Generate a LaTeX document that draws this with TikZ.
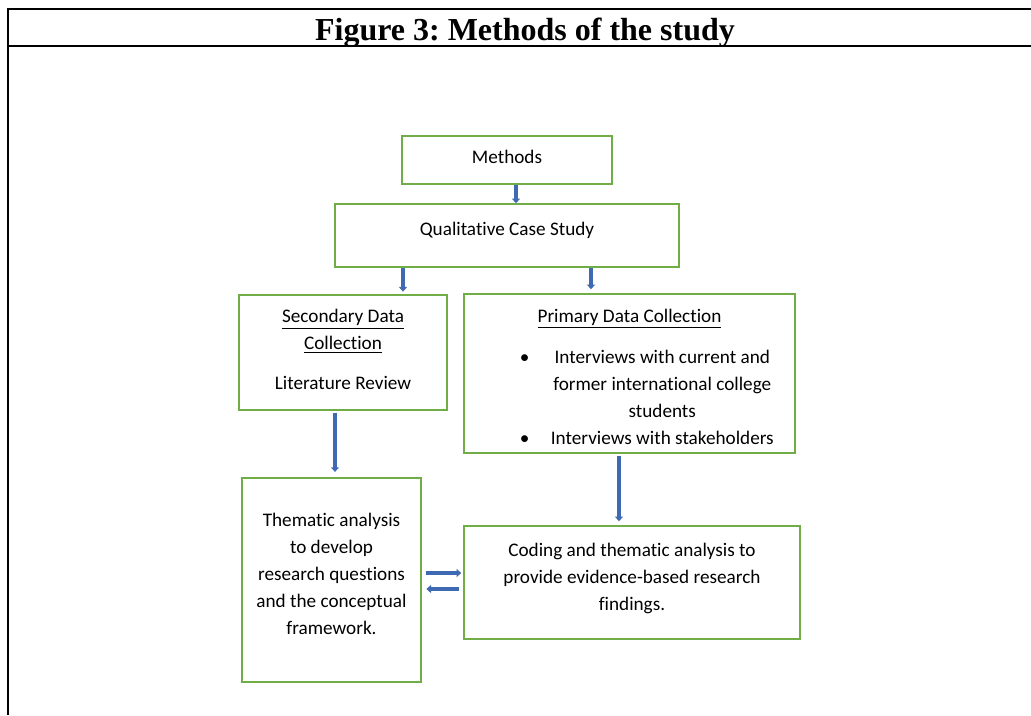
\documentclass[tikz,border=0pt]{standalone}
\usepackage{fontspec}
\setmainfont{Carlito}[Ligatures=CommonOff]
\newfontfamily\titlefont{Liberation Serif}
\usetikzlibrary{arrows.meta}
\definecolor{BoxGreen}{HTML}{70AD47}
\definecolor{ArrowBlue}{HTML}{3F69B3}
\newcommand\bodysize{\fontsize{14.4pt}{20.25pt}\selectfont}
\frenchspacing

\begin{document}
\begin{tikzpicture}[x=.75pt,y=-.75pt,
  box/.style={draw=BoxGreen,line width=1.1pt,align=center,font=\bodysize,inner sep=0pt},
  flow/.style={draw=ArrowBlue,line width=3pt,-{Triangle[width=6pt,length=3.5pt]}}]
\useasboundingbox (0,0) rectangle (1031,715);
% table frame round the figure
\draw[line width=1.5pt] (1031,9) -- (8,9) -- (8,715);
\draw[line width=1.5pt] (8,46) -- (1031,46);
\node[anchor=base,font=\titlefont\fontsize{24pt}{28pt}\selectfont\bfseries] (title) at (525,40) {Figure 3: Methods of the study};
% boxes
\node[box,minimum width=157.5pt,minimum height=36pt,text depth=4.5pt] (methods) at (507,160) {Methods};
\node[box,minimum width=258pt,minimum height=47.25pt,text depth=10pt] (qcs) at (507,235.5) {Qualitative Case Study};
\node[box,minimum width=156pt,minimum height=86.25pt,text depth=4.5pt] (secondary) at (343,352.5) {\underline{Secondary Data}\\\underline{Collection}\\[9.5pt]Literature Review};
\node[box,minimum width=248.25pt,minimum height=119.25pt] (primary) at (629.5,373.5) {\rule{0pt}{21pt}\underline{Primary Data Collection}\\[10.5pt]\hspace*{26pt}\begin{tabular}[t]{@{}c@{\hspace{16pt}}c@{}}
  \textbullet & Interviews with current and\\
   & former international college\\
   & students\\
  \textbullet & Interviews with stakeholders
\end{tabular}};
\node[box,minimum width=134.25pt,minimum height=153pt,text depth=10pt] (thematic) at (331.5,580) {Thematic analysis\\to develop\\research questions\\and the conceptual\\framework.};
\node[box,minimum width=252pt,minimum height=84.75pt,text depth=8.5pt] (coding) at (632,582.5) {Coding and thematic analysis to\\provide evidence-based research\\findings.};
% arrows
\draw[flow] (methods.south -| 516,0) -- (qcs.north -| 516,0);
\draw[flow,shorten >=2pt] (qcs.south -| 403,0) -- (secondary.north -| 403,0);
\draw[flow,shorten >=3pt] (qcs.south -| 591,0) -- (primary.north -| 591,0);
\draw[flow,shorten <=1.5pt,shorten >=4pt] (secondary.south -| 335,0) -- (thematic.north -| 335,0);
\draw[flow,shorten <=1.5pt,shorten >=3pt] (primary.south -| 619,0) -- (coding.north -| 619,0);
\draw[flow,shorten <=3pt,shorten >=1.5pt] (thematic.east |- 0,573) -- (coding.west |- 0,573);
\draw[flow,shorten <=3pt,shorten >=3.5pt] (coding.west |- 0,589) -- (thematic.east |- 0,589);
\end{tikzpicture}
\end{document}
